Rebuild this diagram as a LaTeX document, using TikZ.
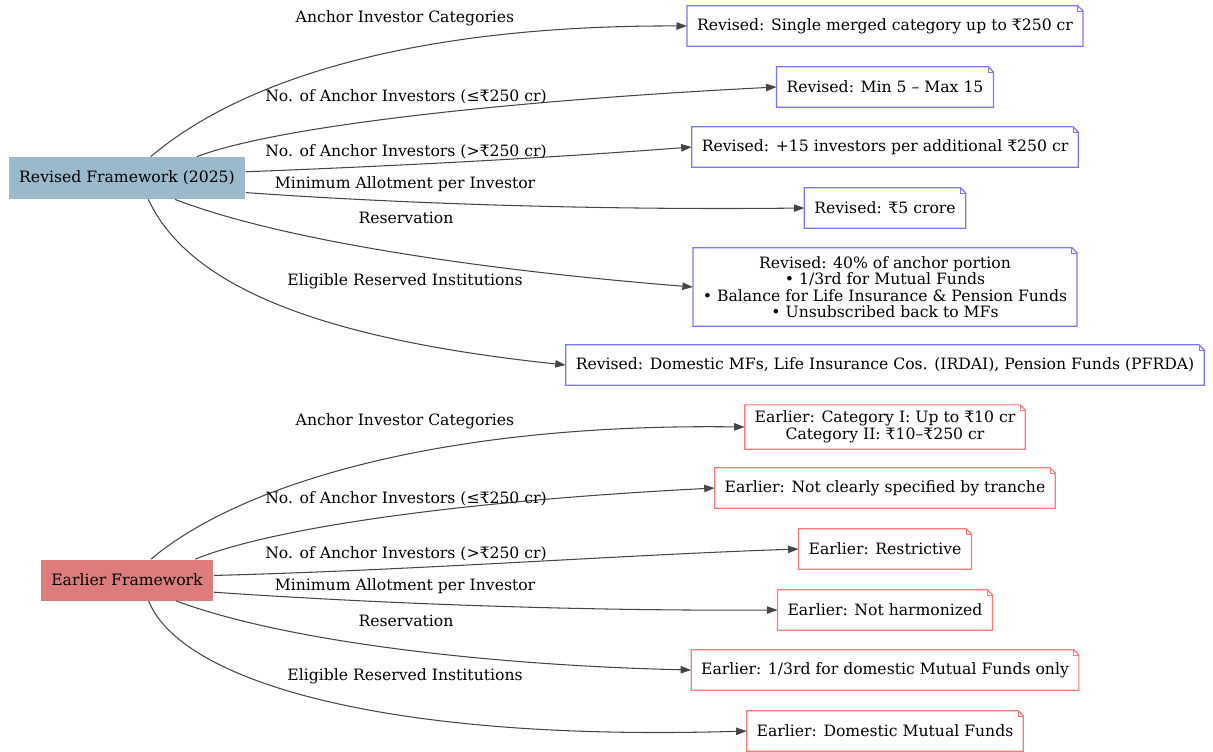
\documentclass[tikz,border=0pt]{standalone}
\usepackage{fontspec}
\setmainfont{DejaVu Serif}
\usetikzlibrary{arrows.meta,calc}

\definecolor{revfill}{RGB}{154,186,204}
\definecolor{earfill}{RGB}{221,124,124}
\definecolor{revline}{RGB}{120,120,255}
\definecolor{earline}{RGB}{255,120,120}
\definecolor{linkgray}{RGB}{70,70,70}

\tikzset{
  txt/.style={font=\fontsize{8.9}{9.4}\selectfont},
  frame/.style={txt, fill=#1, inner sep=0pt},
  notebox/.style={txt, fill=white, minimum height=0.8cm, inner xsep=5.5pt, align=center},
  link/.style={draw=linkgray, line width=0.6pt, -{Triangle[length=6pt,width=4.2pt]}},
  linklabel/.style={txt, inner sep=1pt},
}

\begin{document}
\begin{tikzpicture}[x=0.02cm, y=-0.02cm]
    % whole canvas, pixel units
    \useasboundingbox (0,0) rectangle (1213,751);

    % the two frameworks
    \node[frame=revfill, minimum width=4.74cm, minimum height=0.84cm] (rev) at (127,178) {Revised Framework (2025)};
    \node[frame=earfill, minimum width=3.46cm, minimum height=0.82cm] (ear) at (127,580) {Earlier Framework};

    % revised notes
    \node[notebox] (r1) at (885,26) {Revised: Single merged category up to ₹250 cr};
    \node[notebox] (r2) at (885,87) {Revised: Min 5 – Max 15};
    \node[notebox] (r3) at (885,147) {Revised: +15 investors per additional ₹250 cr};
    \node[notebox] (r4) at (885,208) {Revised: ₹5 crore};
    \node[notebox, minimum height=1.56cm] (r5) at (885,287) {Revised: 40\% of anchor portion\\ • 1/3rd for Mutual Funds\\ • Balance for Life Insurance \& Pension Funds\\ • Unsubscribed back to MFs};
    \node[notebox] (r6) at (885,365) {Revised: Domestic MFs, Life Insurance Cos. (IRDAI), Pension Funds (PFRDA)};

    % earlier notes
    \node[notebox, minimum height=0.86cm] (e1) at (885,427) {Earlier: Category I: Up to ₹10 cr\\ Category II: ₹10–₹250 cr};
    \node[notebox] (e2) at (885,488) {Earlier: Not clearly specified by tranche};
    \node[notebox] (e3) at (885,549) {Earlier: Restrictive};
    \node[notebox] (e4) at (885,610) {Earlier: Not harmonized};
    \node[notebox] (e5) at (885,670) {Earlier: 1/3rd for domestic Mutual Funds only};
    \node[notebox] (e6) at (885,731) {Earlier: Domestic Mutual Funds};

    % note outlines with folded corner
    \foreach \n/\c in {r1/revline,r2/revline,r3/revline,r4/revline,r5/revline,r6/revline,
                       e1/earline,e2/earline,e3/earline,e4/earline,e5/earline,e6/earline} {
        \draw[\c, line width=0.7pt] (\n.south west) -- (\n.south east) -- ([yshift=-3pt]\n.north east)
            -- ([xshift=-3pt]\n.north east) -- (\n.north west) -- cycle;
        \draw[\c, line width=0.4pt] ([xshift=-3pt]\n.north east) -- ([xshift=-3pt,yshift=-3pt]\n.north east)
            -- ([yshift=-3pt]\n.north east);
    }

    % revised edges
    \draw[link] (rev.42) .. controls (235,85) and (400,25) .. (r1.west);
    \draw[link] (rev.17) .. controls (280,125) and (520,100) .. (r2.west);
    \draw[link] (rev.3) .. controls (420,165) and (560,157) .. (r3.west);
    \draw[link] (rev.-7) .. controls (420,205) and (620,210) .. (r4.west);
    \draw[link] (rev.-24) .. controls (280,240) and (480,270) .. (r5.west);
    \draw[link] (rev.-45) .. controls (190,290) and (330,340) .. (r6.west);

    % earlier edges
    \draw[link] (ear.41) .. controls (235,488) and (430,423) .. (e1.west);
    \draw[link] (ear.17) .. controls (280,525) and (480,500) .. (e2.west);
    \draw[link] (ear.3) .. controls (420,570) and (620,555) .. (e3.west);
    \draw[link] (ear.-8) .. controls (400,605) and (600,611) .. (e4.west);
    \draw[link] (ear.-23) .. controls (280,640) and (480,665) .. (e5.west);
    \draw[link] (ear.-44) .. controls (180,680) and (380,742) .. (e6.west);

    % edge labels, revised
    \node[linklabel] (rl1) at (405,18) {Anchor Investor Categories};
    \node[linklabel] (rl2) at (406,97) {No. of Anchor Investors (≤₹250 cr)};
    \node[linklabel] (rl3) at (406,152) {No. of Anchor Investors (>₹250 cr)};
    \node[linklabel] (rl4) at (405,184) {Minimum Allotment per Investor};
    \node[linklabel] (rl5) at (406,218) {Reservation};
    \node[linklabel] (rl6) at (405,281) {Eligible Reserved Institutions};

    % edge labels, earlier
    \node[linklabel] (el1) at (405,421) {Anchor Investor Categories};
    \node[linklabel] (el2) at (406,499) {No. of Anchor Investors (≤₹250 cr)};
    \node[linklabel] (el3) at (406,554) {No. of Anchor Investors (>₹250 cr)};
    \node[linklabel] (el4) at (405,586) {Minimum Allotment per Investor};
    \node[linklabel] (el5) at (406,621) {Reservation};
    \node[linklabel] (el6) at (405,676) {Eligible Reserved Institutions};
\end{tikzpicture}
\end{document}
